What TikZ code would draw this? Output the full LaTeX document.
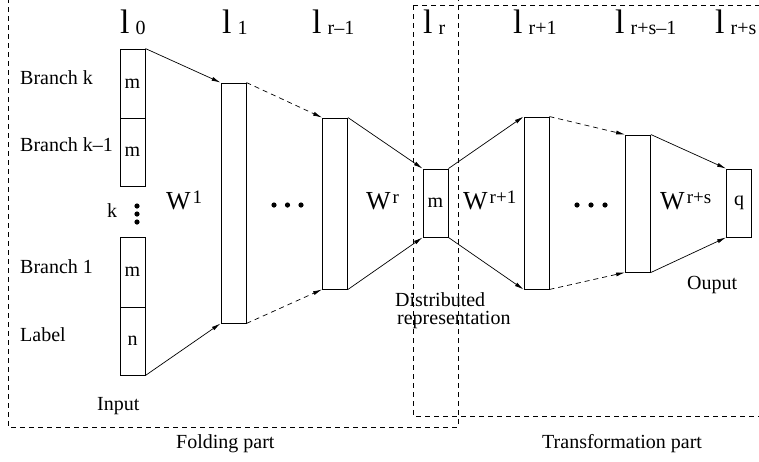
\documentclass[tikz,border=0pt]{standalone}
\usepackage{fontspec}
\setmainfont{Liberation Serif}
\usetikzlibrary{arrows.meta}

\newcommand{\lname}[1]{{\fontsize{34}{34}\selectfont l}\hspace{6pt}\raisebox{-1.5pt}{\fontsize{20}{20}\selectfont #1}}
\newcommand{\wname}[1]{{\fontsize{26}{26}\selectfont W}\hspace{2pt}\raisebox{6pt}{\fontsize{19}{19}\selectfont #1}}

\begin{document}
\begin{tikzpicture}[x=1pt, y=-1pt, font=\fontsize{20}{22}\selectfont,
		layer/.style={draw, line width=0.9pt, minimum width=25pt, inner sep=0pt},
		txt/.style={anchor=base west, inner sep=0pt},
		fw/.style={-{Latex[length=9pt,width=4pt]}, line width=0.7pt},
		gap/.style={dash pattern=on 5pt off 4pt},
		part/.style={gap, line width=0.7pt}]
	\useasboundingbox (0,0) rectangle (759,461);

	% layers
	\node [layer, minimum height=69pt] (in4) at (132.5,83.5) {m};
	\node [layer, minimum height=68pt] (in3) at (132.5,152) {m};
	\node [layer, minimum height=70pt] (in2) at (132.5,272) {m};
	\node [layer, minimum height=68pt] (in1) at (132.5,341) {n};
	\node [layer, minimum height=240pt] (h1) at (233.5,203) {};
	\node [layer, minimum height=171pt] (h2) at (335,203.5) {};
	\node [layer, minimum height=68pt] (code) at (435.5,203) {m};
	\node [layer, minimum height=172pt] (h3) at (536.5,203) {};
	\node [layer, minimum height=137pt] (h4) at (638,203.5) {};
	\node [layer, minimum height=68pt] (out) at (739,203) {q};

	% layer names
	\node [txt] (t0) at (120,33) {\lname{0}};
	\node [txt] (t1) at (222,33) {\lname{1}};
	\node [txt] (t2) at (312,33) {\lname{r--1}};
	\node [txt] (t3) at (423,33) {\lname{r}};
	\node [txt] (t4) at (513,33) {\lname{r+1}};
	\node [txt] (t5) at (615,33) {\lname{r+s--1}};
	\node [txt] (t6) at (715,33) {\lname{r+s}};

	% weights
	\node [txt] (w1) at (166,209) {\wname{1}};
	\node [txt] (w2) at (366,209) {\wname{r}};
	\node [txt] (w3) at (463,209) {\wname{r+1}};
	\node [txt] (w4) at (660,209) {\wname{r+s}};

	\foreach \x in {274,287.5,301} \fill (\x,205) circle (2.6pt);
	\foreach \x in {577,591,605} \fill (\x,205) circle (2.6pt);
	\foreach \y in {206,214,222} \fill (137,\y) circle (2.6pt);

	% texts
	\node [txt] (b4) at (20,84) {Branch k};
	\node [txt] (b3) at (20,151) {Branch k--1};
	\node [txt] (kk) at (107,217) {k};
	\node [txt] (b1) at (20,273) {Branch 1};
	\node [txt] (lab) at (20,341) {Label};
	\node [txt] (inp) at (97,410) {Input};
	\node [txt] (dist) at (395,306) {Distributed};
	\node [txt] (rep) at (397,324) {representation};
	\node [txt] (outp) at (687,289) {Ouput};
	\node [txt] (fold) at (176,448) {Folding part};
	\node [txt] (trans) at (542,448) {Transformation part};

	% connections
	\draw [fw] (in4.north east) -- (h1.north west);
	\draw [fw] (in1.south east) -- (h1.south west);
	\draw [fw, gap] (h1.north east) -- (h2.north west);
	\draw [fw, gap] (h1.south east) -- (h2.south west);
	\draw [fw] (h2.north east) -- (code.north west);
	\draw [fw] (h2.south east) -- (code.south west);
	\draw [fw] (code.north east) -- (h3.north west);
	\draw [fw] (code.south east) -- (h3.south west);
	\draw [fw, gap] (h3.north east) -- (h4.north west);
	\draw [fw, gap] (h3.south east) -- (h4.south west);
	\draw [fw] (h4.north east) -- (out.north west);
	\draw [fw] (h4.south east) -- (out.south west);

	% parts
	\draw [part] (8,-2) rectangle (458,427);
	\draw [part] (413,5) rectangle (765,416);
\end{tikzpicture}
\end{document}
